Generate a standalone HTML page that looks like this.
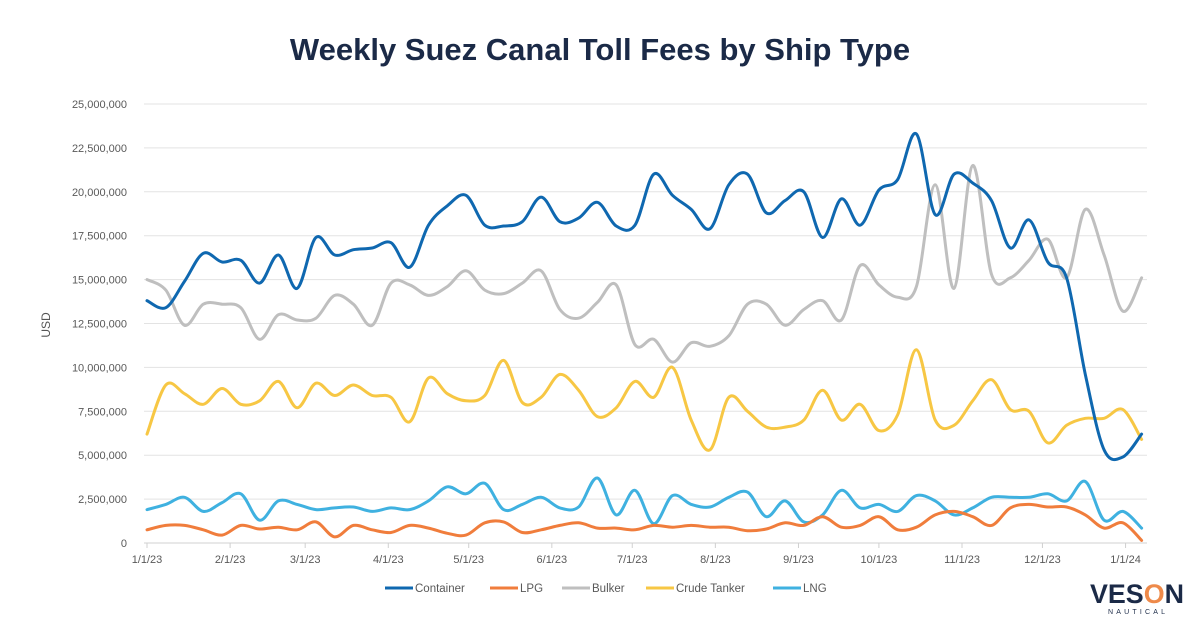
<!DOCTYPE html>
<html><head><meta charset="utf-8"><style>
body{margin:0;background:#fff;width:1200px;height:627px;overflow:hidden;font-family:"Liberation Sans",sans-serif}
</style></head><body>
<svg id="chart" width="1200" height="627" viewBox="0 0 1200 627" xmlns="http://www.w3.org/2000/svg">
<text x="600" y="60" text-anchor="middle" font-family="Liberation Sans, sans-serif" font-weight="bold" font-size="31" fill="#1b2a47">Weekly Suez Canal Toll Fees by Ship Type</text>
<text x="50" y="325" transform="rotate(-90 50 325)" text-anchor="middle" font-size="12" fill="#555">USD</text>
<g id="grid"></g>
<g id="ylabels"></g>
<g id="xlabels"></g>
<g id="series"></g>
<g id="legend"></g>
<g>
<text x="1090" y="603" font-size="27" font-weight="bold" fill="#1b2a47" font-family="Liberation Sans, sans-serif" textLength="94" lengthAdjust="spacingAndGlyphs">VES<tspan fill="#ee8a4a">O</tspan>N</text>
<text x="1108" y="614" font-size="7" fill="#1b2a47" letter-spacing="3.2">NAUTICAL</text>
</g>
</svg>
<script>
const yTicks=[0,2500000,5000000,7500000,10000000,12500000,15000000,17500000,20000000,22500000,25000000];
const xTickLabels=["1/1/23","2/1/23","3/1/23","4/1/23","5/1/23","6/1/23","7/1/23","8/1/23","9/1/23","10/1/23","11/1/23","12/1/23","1/1/24"];
const xTickDays=[0,31,59,90,120,151,181,212,243,273,304,334,365];
const container=[13.8,13.4,14.9,16.5,16.0,16.1,14.8,16.4,14.5,17.4,16.4,16.7,16.8,17.1,15.7,18.1,19.2,19.8,18.1,18.05,18.3,19.7,18.3,18.5,19.4,18.05,18.1,21.0,19.8,19.0,17.9,20.4,21.0,18.8,19.5,20.0,17.4,19.6,18.1,20.1,20.7,23.3,18.7,21.0,20.5,19.5,16.8,18.4,16.0,15.1,9.6,5.3,4.9,6.2];
const lpg=[0.75,1.0,1.0,0.75,0.45,1.0,0.8,0.9,0.75,1.2,0.35,1.0,0.75,0.6,1.0,0.85,0.55,0.45,1.15,1.2,0.6,0.75,1.0,1.15,0.85,0.85,0.75,1.0,0.9,1.0,0.9,0.9,0.7,0.8,1.15,1.0,1.5,0.9,1.0,1.5,0.75,0.9,1.6,1.8,1.5,1.0,2.0,2.2,2.05,2.05,1.6,0.85,1.15,0.15];
const bulker=[15.0,14.4,12.4,13.6,13.6,13.4,11.6,13.0,12.7,12.8,14.1,13.6,12.4,14.8,14.7,14.1,14.6,15.5,14.4,14.2,14.8,15.5,13.3,12.8,13.7,14.7,11.3,11.6,10.3,11.4,11.2,11.8,13.6,13.6,12.4,13.3,13.8,12.7,15.8,14.7,14.0,14.6,20.4,14.5,21.5,15.3,15.1,16.1,17.3,15.1,19.0,16.4,13.2,15.1];
const crude=[6.2,9.0,8.5,7.9,8.8,7.9,8.1,9.2,7.7,9.1,8.4,9.0,8.4,8.3,6.9,9.4,8.5,8.1,8.4,10.4,8.0,8.3,9.6,8.7,7.2,7.7,9.2,8.3,10.0,7.0,5.3,8.3,7.5,6.6,6.6,7.0,8.7,7.0,7.9,6.4,7.3,11.0,7.0,6.7,8.1,9.3,7.6,7.5,5.7,6.7,7.1,7.1,7.6,5.9];
const lng=[1.9,2.2,2.6,1.8,2.3,2.8,1.3,2.4,2.2,1.9,2.0,2.05,1.8,2.0,1.9,2.4,3.2,2.8,3.4,1.9,2.2,2.6,2.0,2.05,3.7,1.6,3.0,1.1,2.7,2.2,2.05,2.6,2.9,1.5,2.4,1.2,1.6,3.0,2.0,2.2,1.8,2.7,2.4,1.6,2.0,2.6,2.6,2.6,2.8,2.4,3.5,1.3,1.8,0.85];
const seriesNames=["Container","LPG","Bulker","Crude Tanker","LNG"];
const seriesData=[container,lpg,bulker,crude,lng];
const seriesColors=["#0f68b0","#f07d3c","#bfbfbf","#f7c744","#3fb1e0"];
const NS="http://www.w3.org/2000/svg";
const X0=147,X1=1147,Y0=543,Y1=104;
const dayMax=373;
function xDay(d){return X0+(X1-X0)*d/dayMax;}
function xIdx(i){return xDay(i*7);}
function y(v){return Y0-(Y0-Y1)*v/25000000;}
function mk(tag,attrs,parent){const e=document.createElementNS(NS,tag);for(const k in attrs)e.setAttribute(k,attrs[k]);parent.appendChild(e);return e;}
const grid=document.getElementById('grid'),yl=document.getElementById('ylabels'),xl=document.getElementById('xlabels');
yTicks.forEach(t=>{
 const l=mk('line',{x1:X0-3,x2:X1,y1:y(t),y2:y(t),stroke:t===0?'#d0d0d0':'#e3e3e3','stroke-width':1},grid);
 
 
 const tx=mk('text',{x:127,y:y(t)+4,'text-anchor':'end','font-size':11,fill:'#595959'},yl);
 tx.textContent=t.toLocaleString('en-US');
 
 
});
xTickDays.forEach((d,i)=>{
 const tk=mk('line',{x1:xDay(d),x2:xDay(d),y1:Y0,y2:Y0+5,stroke:'#d0d0d0'},grid);
 
 
 const tx=mk('text',{x:xDay(d),y:563,'text-anchor':'middle','font-size':11,fill:'#595959'},xl);
 tx.textContent=xTickLabels[i];
 
 
});
function smooth(pts){
 let d='M'+pts[0][0]+','+pts[0][1];
 for(let i=0;i<pts.length-1;i++){
  const p0=pts[i-1]||pts[i],p1=pts[i],p2=pts[i+1],p3=pts[i+2]||p2;
  const c1=[p1[0]+(p2[0]-p0[0])/6,p1[1]+(p2[1]-p0[1])/6];
  const c2=[p2[0]-(p3[0]-p1[0])/6,p2[1]-(p3[1]-p1[1])/6];
  d+=' C'+c1[0].toFixed(1)+','+c1[1].toFixed(1)+' '+c2[0].toFixed(1)+','+c2[1].toFixed(1)+' '+p2[0].toFixed(1)+','+p2[1].toFixed(1);
 }
 return d;
}
const sg=document.getElementById('series');
const order=[2,3,4,1,0];
order.forEach(s=>{
 const pts=seriesData[s].map((v,i)=>[xIdx(i),y(v*1e6)]);
 const p=mk('path',{d:smooth(pts),fill:'none',stroke:seriesColors[s],'stroke-width':3,'stroke-linejoin':'round','stroke-linecap':'round'},sg);
 
 
});
const lg=document.getElementById('legend');
const legX=[385,490,562,646,773];
seriesNames.forEach((n,i)=>{
 const g=mk('g',{},lg);
 
 
 mk('line',{x1:legX[i],x2:legX[i]+28,y1:588,y2:588,stroke:seriesColors[i],'stroke-width':3},g);
 const t=mk('text',{x:legX[i]+30,y:592,'font-size':11.5,fill:'#595959'},g);
 t.textContent=n;
});
</script>
</body></html>
